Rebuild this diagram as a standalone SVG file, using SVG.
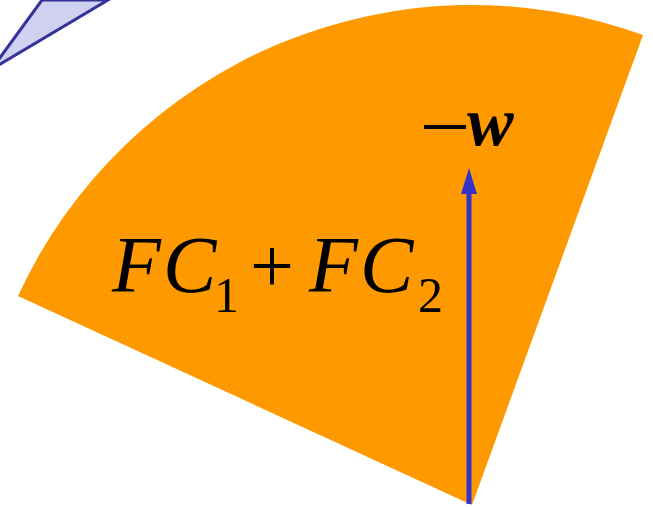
<svg xmlns="http://www.w3.org/2000/svg" width="653" height="507" viewBox="0 0 653 507">
<style>
.m{font-family:"Liberation Serif","Times New Roman",serif;fill:#000}
.i{font-style:italic}
</style>
<defs>
<marker id="ah" markerWidth="26" markerHeight="16" refX="0" refY="8" orient="auto" markerUnits="userSpaceOnUse" viewBox="0 0 26 16">
<path d="M0,0 L26,8 L0,16 Z" fill="#3333cc"/>
</marker>
</defs>
<rect width="653" height="507" fill="#fff"/>
<g id="wedge">
<polygon points="-60,140 42,0 108,0 -60,100" fill="#d0d0f0" stroke="#333399" stroke-width="3"/>
</g>
<g id="sector">
<path d="M472,505 L18,296 A500,500 0 0 1 643,35 Z" fill="#ff9900"/>
</g>
<g id="connectors">
<line x1="469" y1="504" x2="469" y2="194" stroke="#3333cc" stroke-width="5" marker-end="url(#ah)"/>
</g>
<g id="label-w">
<line x1="424" y1="127" x2="466" y2="127" stroke="#000" stroke-width="4"/>
<text class="m i" x="467" y="145" font-size="70" font-weight="bold">w</text>
</g>
<g id="label-fc">
<text class="m i" x="112" y="292" font-size="80">F</text>
<text class="m i" x="163" y="292" font-size="80">C</text>
<text class="m" x="214" y="312" font-size="50">1</text>
<text class="m" x="250" y="292" font-size="78">+</text>
<text class="m i" x="309" y="292" font-size="80">F</text>
<text class="m i" x="360" y="292" font-size="80">C</text>
<text class="m" x="418" y="312" font-size="50">2</text>
</g>
</svg>
